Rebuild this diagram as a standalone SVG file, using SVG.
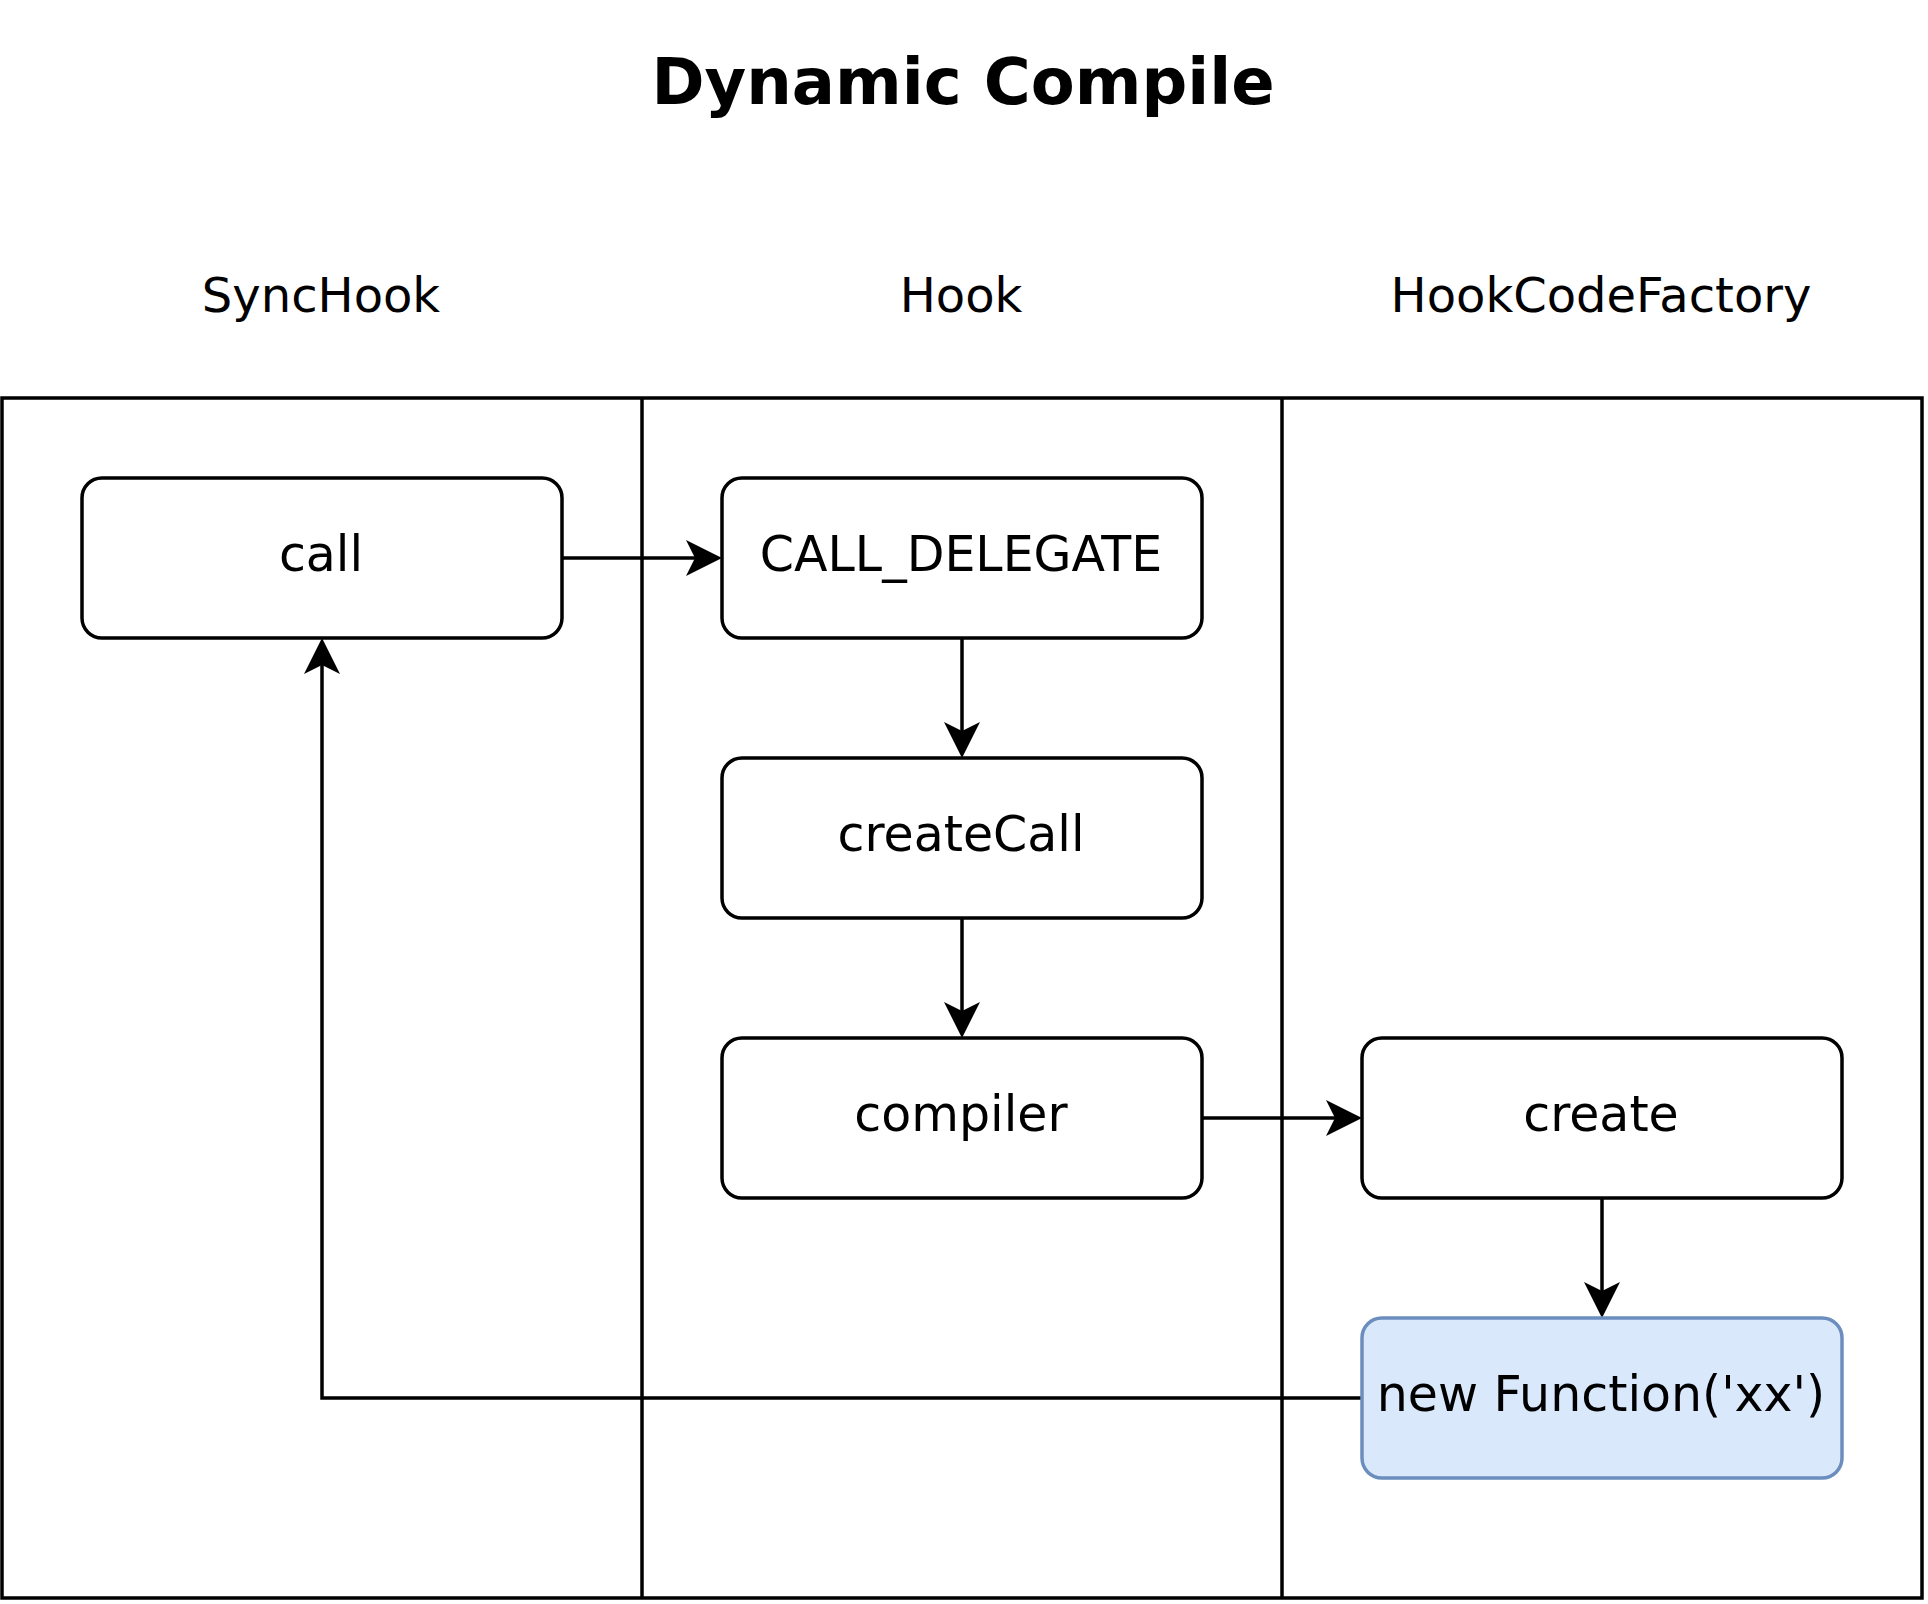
<svg xmlns="http://www.w3.org/2000/svg" width="1928" height="1604" viewBox="0 0 1928 1604">
<style>
text{font-family:"DejaVu Sans","Liberation Sans",sans-serif;fill:#000;text-anchor:middle}
.title{font-size:64px;font-weight:bold}
.lane{font-size:48px}
.lbl{font-size:49px}
.frame{fill:none;stroke:#000;stroke-width:3.5}
.box{fill:#fff;stroke:#000;stroke-width:3.5}
.blue{fill:#dae8fc;stroke:#6c8ebf;stroke-width:3.5}
.edge{fill:none;stroke:#000;stroke-width:3.5;marker-end:url(#arr)}
</style>
<defs>
<marker id="arr" markerUnits="userSpaceOnUse" markerWidth="36" markerHeight="36" viewBox="0 0 36 36" refX="9" refY="18" orient="auto">
<path d="M36,18 L0,0 L9,18 L0,36 Z" fill="#000"/>
</marker>
</defs>
<rect width="1928" height="1604" fill="#fff"/>
<text class="title" x="963" y="104">Dynamic Compile</text>
<g id="pool">
<rect class="frame" x="2" y="398" width="1920" height="1200"/>
<line class="frame" x1="642" y1="398" x2="642" y2="1598"/>
<line class="frame" x1="1282" y1="398" x2="1282" y2="1598"/>
<text class="lane" x="321" y="312">SyncHook</text>
<text class="lane" x="961" y="312">Hook</text>
<text class="lane" x="1601" y="312">HookCodeFactory</text>
</g>
<g id="connectors">
<path class="edge" d="M562,558 L695,558"/>
<path class="edge" d="M962,638 L962,731"/>
<path class="edge" d="M962,918 L962,1011"/>
<path class="edge" d="M1202,1118 L1335,1118"/>
<path class="edge" d="M1602,1198 L1602,1291"/>
<path class="edge" d="M1362,1398 L322,1398 L322,665"/>
</g>
<g id="call">
<rect class="box" x="82" y="478" width="480" height="160" rx="20"/>
<text class="lbl" x="321" y="571">call</text>
</g>
<g id="call_delegate">
<rect class="box" x="722" y="478" width="480" height="160" rx="20"/>
<text class="lbl" x="961" y="571">CALL_DELEGATE</text>
</g>
<g id="createCall">
<rect class="box" x="722" y="758" width="480" height="160" rx="20"/>
<text class="lbl" x="961" y="851">createCall</text>
</g>
<g id="compiler">
<rect class="box" x="722" y="1038" width="480" height="160" rx="20"/>
<text class="lbl" x="961" y="1131">compiler</text>
</g>
<g id="create">
<rect class="box" x="1362" y="1038" width="480" height="160" rx="20"/>
<text class="lbl" x="1601" y="1131">create</text>
</g>
<g id="newFunction">
<rect class="blue" x="1362" y="1318" width="480" height="160" rx="20"/>
<text class="lbl" x="1601" y="1411">new Function('xx')</text>
</g>
</svg>
